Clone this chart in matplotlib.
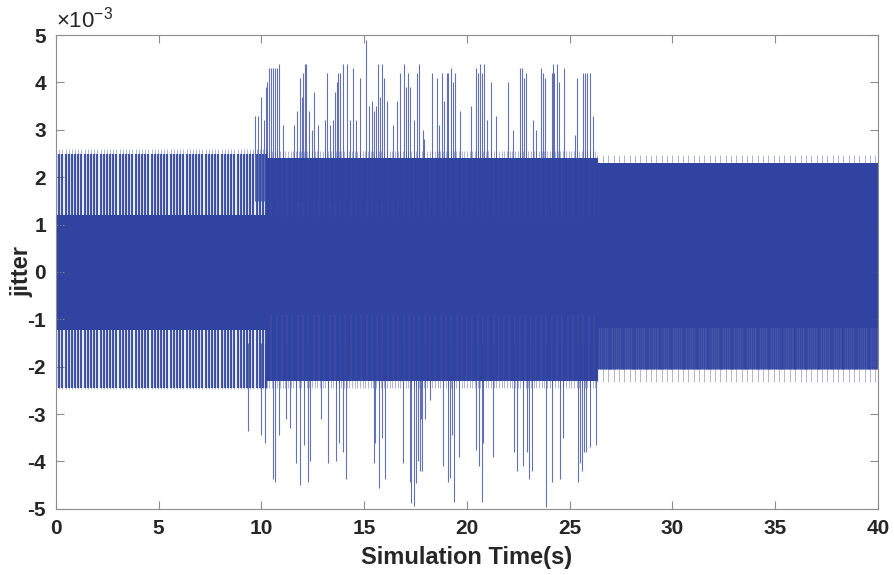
import numpy as np
import matplotlib
matplotlib.use('Agg')
import matplotlib.pyplot as plt
from matplotlib.ticker import FuncFormatter

plt.rcParams['font.family'] = ['Liberation Sans', 'DejaVu Sans']
plt.rcParams['axes.unicode_minus'] = False
plt.rcParams['mathtext.default'] = 'regular'

MS = 1e-3  # jitter values below are given in ms

# operating phases: (start, end) in seconds
phase_t = [(0.0, 10.25), (10.25, 26.35), (26.35, 40.0)]
# solid core of the jitter band per phase (low, high)
core_lo = [-1.22, -0.90, -1.18]
core_hi = [1.20, 1.17, 2.30]
# outer band reached by the periodic swings per phase (low, high)
swing_lo = [-2.45, -2.30, -2.05]
swing_hi = [2.50, 2.40, 2.30]
swing_period = [0.155, 0.06, 0.09]
# light overshoot on the band edges
edge_lo = [-2.48, -2.45, -2.33]
edge_hi = [2.60, 2.55, 2.47]
edge_period = [0.155, 0.13, 0.26]

# isolated peaks during the disturbed phase (time s, jitter ms)
up_t = [9.68, 9.85, 10.0, 10.12, 10.22, 10.25, 10.38, 10.48, 10.58, 10.68, 10.77, 10.87,
        11.06, 11.58, 11.74, 11.87, 11.95, 12.04, 12.12, 12.16, 12.33, 12.45, 12.55, 12.77,
        13.1, 13.2, 13.35, 13.48, 13.6, 13.68, 13.74, 13.82, 13.98, 14.18, 14.3, 14.47,
        14.6, 14.8, 15.07, 15.25, 15.37, 15.48, 15.58, 15.67, 15.78, 15.88, 15.96, 16.1,
        16.4, 16.6, 16.74, 16.93, 17.05, 17.14, 17.25, 17.4, 17.55, 17.68, 17.85,
        17.9, 18.28, 18.55, 18.65, 18.8, 18.9, 19.01, 19.1, 19.2, 19.3, 19.4, 19.65,
        20.2, 20.44, 20.55, 20.63, 20.75, 20.83, 20.95, 21.17, 21.4, 22.01, 22.25,
        22.58, 22.68, 22.78, 22.87, 23.2, 23.35, 23.58, 23.7, 23.82, 24.12, 24.17,
        24.25, 24.36, 24.5, 24.72, 25.25, 25.36, 25.63, 25.72, 25.82, 25.99, 26.15]
up_v = [3.3, 3.3, 3.7, 3.2, 3.9, 4.0, 4.3, 4.3, 4.3, 4.3, 4.3, 4.4,
        3.1, 3.1, 3.4, 4.1, 3.7, 4.2, 4.4, 4.4, 3.4, 3.0, 3.8, 3.1,
        3.2, 4.2, 3.1, 3.2, 3.8, 4.0, 4.2, 4.2, 4.4, 4.4, 3.2, 4.3,
        3.2, 4.1, 4.9, 3.5, 3.6, 3.4, 3.5, 4.4, 3.7, 4.4, 4.1, 3.6,
        3.1, 3.6, 4.2, 4.4, 3.9, 4.2, 3.9, 3.2, 4.2, 4.4, 3.0,
        2.8, 4.2, 4.1, 3.1, 4.2, 3.6, 4.2, 4.2, 4.3, 4.0, 4.2, 3.4,
        3.5, 4.3, 4.2, 4.4, 4.2, 4.4, 3.2, 4.0, 3.3, 4.0, 3.0,
        4.3, 4.3, 4.1, 4.2, 3.2, 3.0, 4.3, 4.2, 4.1, 4.2, 4.4,
        4.2, 4.4, 4.0, 4.3, 2.9, 4.1, 4.2, 4.2, 4.2, 4.2, 3.3]

down_t = [9.35, 10.0, 10.15, 10.54, 10.65, 10.85, 11.17, 11.4, 11.68, 11.87, 12.05, 12.28,
          12.35, 12.9, 13.25, 13.65, 13.75, 13.98, 14.11, 15.5, 15.47, 15.72, 15.85,
          16.01, 16.87, 17.23, 17.29, 17.42, 17.52, 17.6, 17.7, 17.75, 17.8, 17.95,
          18.2, 18.85, 19.09, 19.18, 19.25, 19.37, 19.6, 20.45, 20.6, 20.71, 20.8,
          21.25, 22.3, 22.45, 22.75, 22.9, 23.03, 23.15, 23.84, 24.12, 24.52, 24.65,
          25.42, 25.5, 25.58, 25.7, 25.8, 26.0, 26.3]
down_v = [-3.35, -3.45, -3.6, -4.36, -4.43, -3.45, -3.1, -3.3, -4.04, -4.5, -3.65, -4.43,
          -4.0, -3.1, -4.04, -4.0, -3.6, -3.8, -4.36, -3.6, -4.04, -4.55, -3.5,
          -4.36, -4.04, -4.43, -4.88, -4.93, -4.45, -4.0, -4.2, -3.1, -4.2, -3.1,
          -2.7, -4.1, -4.43, -4.35, -3.45, -4.86, -3.9, -3.75, -4.1, -4.86, -3.6,
          -3.9, -3.8, -4.2, -4.1, -3.8, -4.36, -4.2, -4.96, -4.43, -4.36, -3.5,
          -4.43, -4.04, -4.2, -3.8, -3.8, -3.7, -3.66]

x_ticks = [0, 5, 10, 15, 20, 25, 30, 35, 40]
y_ticks = [-5e-3, -4e-3, -3e-3, -2e-3, -1e-3, 0, 1e-3, 2e-3, 3e-3, 4e-3, 5e-3]

blue = '#3043A0'
ink = '#262626'
axis_grey = '#8c8c8c'

fig = plt.figure(figsize=(8.94, 5.75), dpi=100)
ax = fig.add_axes([0.0626, 0.115, 0.9195, 0.824])

for i, (t0, t1) in enumerate(phase_t):
    # light overshoot on band edges
    te = np.arange(t0, t1, edge_period[i])
    ax.vlines(te, edge_lo[i] * MS, edge_hi[i] * MS, color=blue, lw=0.6, alpha=0.45)
    # periodic full swings
    ts = np.arange(t0, t1, swing_period[i])
    ax.vlines(ts, swing_lo[i] * MS, swing_hi[i] * MS, color=blue,
              lw=2.0 if i == 2 else 1.6, alpha=0.9)
    # solid core
    ax.fill_between([t0, t1], core_lo[i] * MS, core_hi[i] * MS, color=blue, lw=0)

# disturbed phase: dense band between the swings
t0, t1 = phase_t[1]
ax.fill_between([t0, t1], core_hi[1] * MS, swing_hi[1] * MS, color=blue, alpha=0.7, lw=0)
ax.fill_between([t0, t1], swing_lo[1] * MS, core_lo[1] * MS, color=blue, alpha=0.5, lw=0)

ax.vlines(up_t, 1.5 * MS, np.array(up_v) * MS, color=blue, lw=0.8, alpha=0.75)
ax.vlines(down_t, -1.5 * MS, np.array(down_v) * MS, color=blue, lw=0.8, alpha=0.75)

ax.set_xlim(0, 40)
ax.set_ylim(-5e-3, 5e-3)
ax.set_xticks(x_ticks)
ax.set_yticks(y_ticks)
ax.yaxis.set_major_formatter(FuncFormatter(lambda v, pos: f'{v / MS:.0f}'))
ax.text(0.0, 1.005, r'$\times10^{-3}$', transform=ax.transAxes, fontsize=16,
        color=ink, ha='left', va='bottom')

ax.tick_params(direction='in', length=6, width=0.8, colors=axis_grey,
               top=True, right=True, labelsize=15, labelcolor=ink, pad=7)
for lab in ax.get_xticklabels() + ax.get_yticklabels():
    lab.set_fontweight('bold')
for s in ax.spines.values():
    s.set_color(axis_grey)
    s.set_linewidth(0.8)

ax.set_xlabel('Simulation Time(s)', fontsize=17, fontweight='bold', color=ink, labelpad=6)
ax.set_ylabel('jitter', fontsize=17, fontweight='bold', color=ink)
ax.yaxis.set_label_coords(-0.027, 0.5)

fig.savefig('out.png', dpi=100)
